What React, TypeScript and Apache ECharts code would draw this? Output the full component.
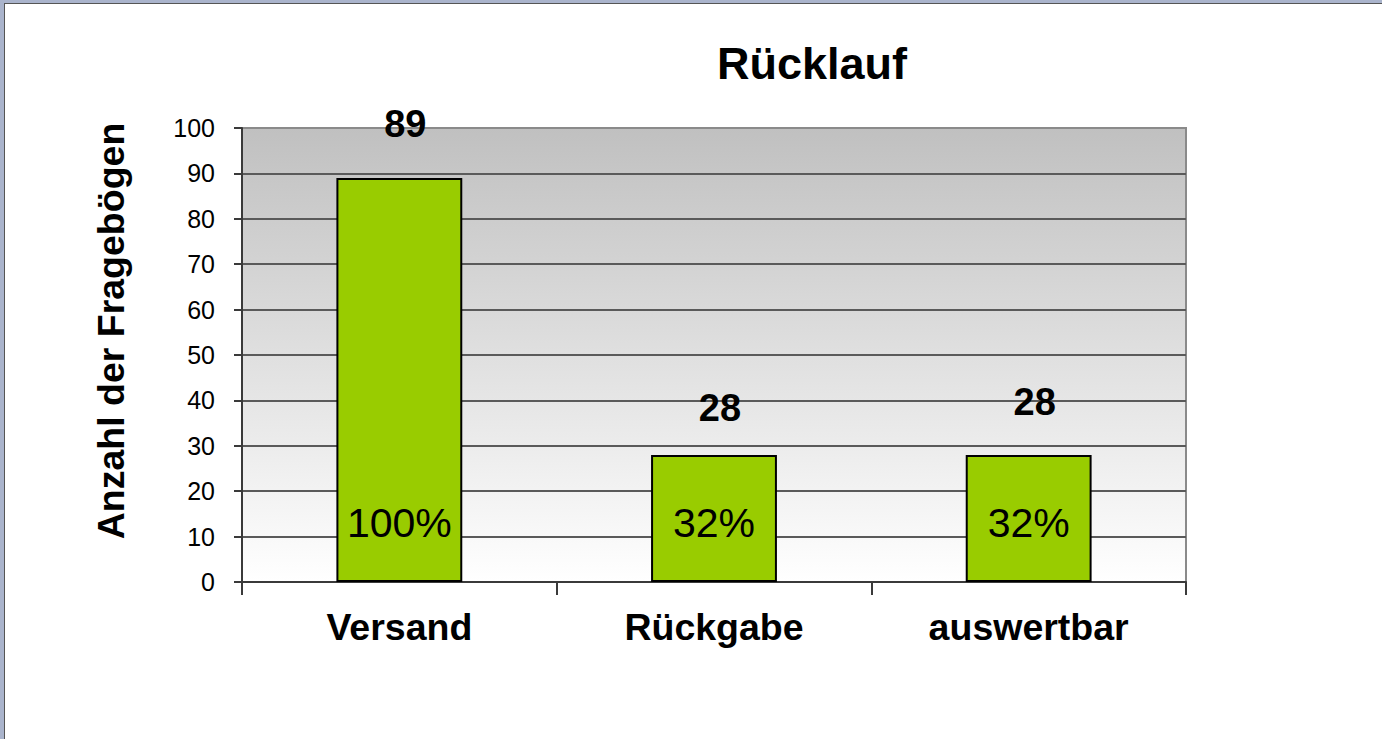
import React, { useEffect, useRef } from "react";
import * as echarts from "echarts";

const categories = ["Versand", "Rückgabe", "auswertbar"];
const counts = [89, 28, 28];
const percentLabels = ["100%", "32%", "32%"];
const yTicks = { min: 0, max: 100, interval: 10 };
const titleText = "Rücklauf";
const yAxisName = "Anzahl der Fragebögen";

const FONT = "'Liberation Sans', Arial, Helvetica, sans-serif";

export default function App() {
  const ref = useRef<HTMLDivElement>(null);
  useEffect(() => {
    if (!ref.current) return;
    const chart = echarts.init(ref.current, undefined, { renderer: "svg" });
    const topDistances = [35, 28, 34];
    const splitColors = Array.from({ length: 11 }, (_, i) => (i === 10 ? "#8a8a8a" : "#5a5a5a"));
    chart.setOption({
      animation: false,
      backgroundColor: "#ffffff",
      title: {
        text: titleText,
        left: 807,
        top: 36,
        textAlign: "center",
        textStyle: { fontFamily: FONT, fontSize: 45, fontWeight: "bold", color: "#000" },
      },
      grid: {
        left: 242,
        top: 128,
        right: 196,
        bottom: 157,
        show: true,
        borderColor: "#8a8a8a",
        borderWidth: 2,
        backgroundColor: new echarts.graphic.LinearGradient(0, 0, 0, 1, [
          { offset: 0, color: "#c0c0c0" },
          { offset: 1, color: "#ffffff" },
        ]),
      },
      xAxis: {
        type: "category",
        data: categories,
        axisLine: { show: true, lineStyle: { color: "#3a3a3a", width: 2 } },
        axisTick: { show: true, alignWithLabel: false, length: 13, lineStyle: { color: "#3a3a3a", width: 2 } },
        axisLabel: { margin: 26, fontFamily: FONT, fontSize: 37.5, fontWeight: "bold", color: "#000" },
      },
      yAxis: {
        type: "value",
        min: yTicks.min,
        max: yTicks.max,
        interval: yTicks.interval,
        name: yAxisName,
        nameLocation: "middle",
        nameRotate: 90,
        nameGap: 112,
        nameTextStyle: {
          fontFamily: FONT,
          fontSize: 37.5,
          fontWeight: "bold",
          color: "#000",
          padding: [0, 0, 0, 48],
        },
        axisLine: { show: true, lineStyle: { color: "#3a3a3a", width: 2 } },
        axisTick: { show: true, length: 8, lineStyle: { color: "#3a3a3a", width: 2 } },
        axisLabel: { margin: 27, fontFamily: FONT, fontSize: 25, color: "#000" },
        splitLine: { show: true, lineStyle: { color: splitColors, width: 2 } },
      },
      series: [
        {
          type: "bar",
          barWidth: "40%",
          data: counts.map((v, i) => ({ value: v, label: { distance: topDistances[i] } })),
          itemStyle: { color: "#99cc00", borderColor: "#000", borderWidth: 2 },
          label: {
            show: true,
            position: "top",
            offset: [6, 0],
            fontFamily: FONT,
            fontSize: 38,
            fontWeight: "bold",
            color: "#000",
          },
          z: 2,
        },
        {
          type: "bar",
          barWidth: "40%",
          barGap: "-100%",
          data: counts,
          itemStyle: { color: "rgba(0,0,0,0)" },
          label: {
            show: true,
            position: "insideBottom",
            distance: 39,
            formatter: (p: any) => percentLabels[p.dataIndex],
            fontFamily: FONT,
            fontSize: 41,
            color: "#000",
          },
          z: 3,
          silent: true,
        },
      ],
      graphic: [
        { type: "rect", shape: { x: 0, y: 0, width: 1382, height: 3 }, style: { fill: "#aab4cc" }, z: 100 },
        { type: "rect", shape: { x: 0, y: 0, width: 4, height: 739 }, style: { fill: "#aab4cc" }, z: 100 },
        { type: "line", shape: { x1: 4, y1: 3.5, x2: 1382, y2: 3.5 }, style: { stroke: "#555", lineWidth: 1 }, z: 100 },
        { type: "line", shape: { x1: 4.5, y1: 3, x2: 4.5, y2: 739 }, style: { stroke: "#555", lineWidth: 1 }, z: 100 },
      ],
    });
    return () => chart.dispose();
  }, []);
  return (
    <div
      ref={ref}
      style={{ position: "fixed", left: 0, top: 0, width: 1382, height: 739, background: "#fff" }}
    />
  );
}
